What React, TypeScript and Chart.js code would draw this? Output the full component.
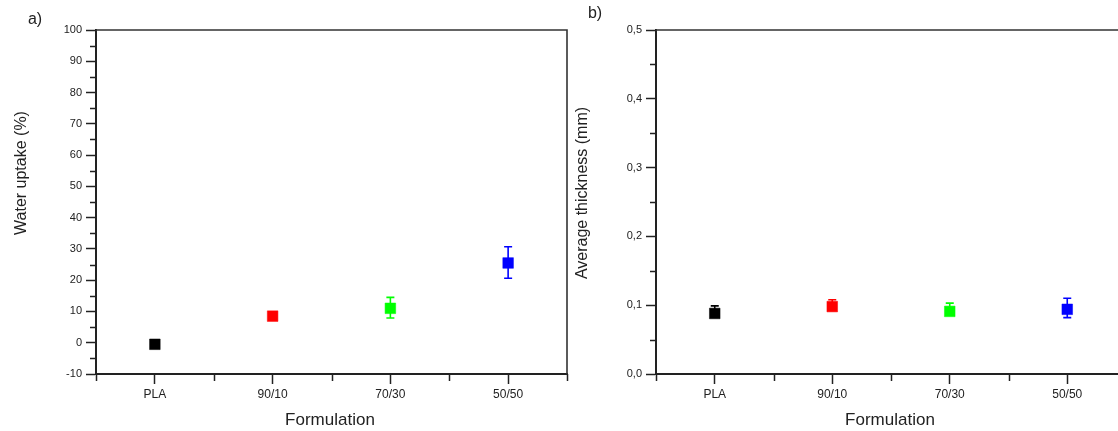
import React, { useEffect, useRef } from 'react';
import { Chart, registerables } from 'chart.js';

Chart.register(...registerables);

// ---------- data ----------
const categories = ['PLA', '90/10', '70/30', '50/50'];
const categoryPositions = [1, 2, 3, 4];
const minorXTicks = [0.5, 1.5, 2.5, 3.5, 4.5];
const pointColors = ['#000000', '#ff0000', '#00ff00', '#0000ff'];

const waterUptake = [-0.5, 8.5, 11.0, 25.5];
const waterUptakeErrPlus = [0.5, 0.5, 3.5, 5.2];
const waterUptakeErrMinus = [0.5, 0.5, 3.1, 4.9];
const waterTicks = [-10, 0, 10, 20, 30, 40, 50, 60, 70, 80, 90, 100];
const waterMinorTicks = [-5, 5, 15, 25, 35, 45, 55, 65, 75, 85, 95];

const thickness = [0.088, 0.098, 0.091, 0.094];
const thicknessErrPlus = [0.011, 0.010, 0.012, 0.016];
const thicknessErrMinus = [0.005, 0.004, 0.005, 0.012];
const thicknessTicks = [0, 0.1, 0.2, 0.3, 0.4, 0.5];
const thicknessMinorTicks = [0.05, 0.15, 0.25, 0.35, 0.45];

const FONT = "'Liberation Sans', Arial, sans-serif";
const INK = '#222222';

type PanelSpec = {
  width: number;
  height: number;
  padding: { top: number; left: number; right: number; bottom: number };
  yWidth: number;
  xHeight: number;
  values: number[];
  errPlus: number[];
  errMinus: number[];
  yMin: number;
  yMax: number;
  yTicks: number[];
  yMinor: number[];
  yFormat: (v: number) => string;
  yTitle: string;
  yTitlePos: [number, number];
  xTitle: string;
  xTitlePos: [number, number];
  panelLabel: string;
  panelLabelPos: [number, number];
};

function makeConfig(p: PanelSpec): any {
  const decorations = {
    id: 'decorations',
    beforeDatasetsDraw(chart: any) {
      const ctx = chart.ctx;
      const xs = chart.scales.x;
      const ys = chart.scales.y;
      ctx.save();
      ctx.lineWidth = 1.6;
      for (let i = 0; i < p.values.length; i++) {
        const x = xs.getPixelForValue(categoryPositions[i]);
        const yTop = ys.getPixelForValue(p.values[i] + p.errPlus[i]);
        const yBot = ys.getPixelForValue(p.values[i] - p.errMinus[i]);
        ctx.strokeStyle = pointColors[i];
        ctx.beginPath();
        ctx.moveTo(x, yTop);
        ctx.lineTo(x, yBot);
        ctx.moveTo(x - 4, yTop);
        ctx.lineTo(x + 4, yTop);
        ctx.moveTo(x - 4, yBot);
        ctx.lineTo(x + 4, yBot);
        ctx.stroke();
      }
      ctx.restore();
    },
    afterDraw(chart: any) {
      const ctx = chart.ctx;
      const a = chart.chartArea;
      const xs = chart.scales.x;
      const ys = chart.scales.y;
      ctx.save();
      // frame top + right
      ctx.strokeStyle = '#333333';
      ctx.lineWidth = 1.6;
      ctx.beginPath();
      ctx.moveTo(a.left, a.top);
      ctx.lineTo(a.right, a.top);
      ctx.lineTo(a.right, a.bottom);
      ctx.stroke();
      // minor ticks
      ctx.strokeStyle = INK;
      ctx.lineWidth = 1.5;
      ctx.beginPath();
      for (const v of p.yMinor) {
        const y = Math.round(ys.getPixelForValue(v)) + 0.5;
        ctx.moveTo(a.left, y);
        ctx.lineTo(a.left - 6, y);
      }
      for (const v of minorXTicks) {
        const x = Math.round(xs.getPixelForValue(v)) + 0.5;
        ctx.moveTo(x, a.bottom);
        ctx.lineTo(x, a.bottom + 7);
      }
      ctx.stroke();
      // texts
      ctx.fillStyle = INK;
      ctx.textAlign = 'center';
      ctx.textBaseline = 'middle';
      ctx.font = `17px ${FONT}`;
      ctx.fillText(p.xTitle, p.xTitlePos[0], p.xTitlePos[1]);
      ctx.font = `16px ${FONT}`;
      ctx.fillText(p.panelLabel, p.panelLabelPos[0], p.panelLabelPos[1]);
      ctx.save();
      ctx.translate(p.yTitlePos[0], p.yTitlePos[1]);
      ctx.rotate(-Math.PI / 2);
      ctx.font = `16px ${FONT}`;
      ctx.fillText(p.yTitle, 0, 0);
      ctx.restore();
      ctx.restore();
    },
  };

  return {
    type: 'scatter',
    data: {
      datasets: [
        {
          data: categoryPositions.map((x, i) => ({ x, y: p.values[i] })),
          pointStyle: 'rect',
          pointRadius: 7.5,
          pointHoverRadius: 7.5,
          pointBackgroundColor: pointColors,
          pointBorderColor: pointColors,
          pointBorderWidth: 0.5,
          showLine: false,
        },
      ],
    },
    options: {
      responsive: false,
      animation: false,
      events: [],
      layout: { padding: p.padding },
      plugins: { legend: { display: false }, tooltip: { enabled: false }, title: { display: false } },
      scales: {
        x: {
          type: 'linear',
          min: 0.5,
          max: 4.5,
          afterBuildTicks: (s: any) => {
            s.ticks = categoryPositions.map((v) => ({ value: v }));
          },
          afterFit: (s: any) => {
            s.height = p.xHeight;
          },
          ticks: {
            color: INK,
            font: { family: FONT, size: 12 },
            padding: 3,
            maxRotation: 0,
            autoSkip: false,
            callback: (v: number) => {
              const idx = categoryPositions.indexOf(v);
              return idx >= 0 ? categories[idx] : '';
            },
          },
          grid: {
            display: true,
            drawOnChartArea: false,
            drawTicks: true,
            tickLength: 10,
            tickColor: INK,
            tickWidth: 1.5,
          },
          border: { display: true, color: INK, width: 2 },
        },
        y: {
          type: 'linear',
          min: p.yMin,
          max: p.yMax,
          afterBuildTicks: (s: any) => {
            s.ticks = p.yTicks.map((v) => ({ value: v }));
          },
          afterFit: (s: any) => {
            s.width = p.yWidth;
          },
          ticks: {
            color: INK,
            font: { family: FONT, size: 11 },
            padding: 4,
            autoSkip: false,
            callback: (v: number) => p.yFormat(v),
          },
          grid: {
            display: true,
            drawOnChartArea: false,
            drawTicks: true,
            tickLength: 10,
            tickColor: INK,
            tickWidth: 1.5,
          },
          border: { display: true, color: INK, width: 2 },
        },
      },
    },
    plugins: [decorations],
  };
}

const leftSpec: PanelSpec = {
  width: 575,
  height: 431,
  padding: { top: 30, left: 0, right: 3, bottom: 0 },
  yWidth: 96,
  xHeight: 57,
  values: waterUptake,
  errPlus: waterUptakeErrPlus,
  errMinus: waterUptakeErrMinus,
  yMin: -10,
  yMax: 100,
  yTicks: waterTicks,
  yMinor: waterMinorTicks,
  yFormat: (v) => String(v),
  yTitle: 'Water uptake (%)',
  yTitlePos: [22, 173],
  xTitle: 'Formulation',
  xTitlePos: [330, 420],
  panelLabel: 'a)',
  panelLabelPos: [35, 20],
};

const rightSpec: PanelSpec = {
  width: 570,
  height: 431,
  padding: { top: 30, left: 0, right: 14, bottom: 0 },
  yWidth: 86,
  xHeight: 57,
  values: thickness,
  errPlus: thicknessErrPlus,
  errMinus: thicknessErrMinus,
  yMin: 0,
  yMax: 0.5,
  yTicks: thicknessTicks,
  yMinor: thicknessMinorTicks,
  yFormat: (v) => v.toFixed(1).replace('.', ','),
  yTitle: 'Average thickness (mm)',
  yTitlePos: [13, 193],
  xTitle: 'Formulation',
  xTitlePos: [320, 420],
  panelLabel: 'b)',
  panelLabelPos: [25, 14],
};

function Panel({ spec, left }: { spec: PanelSpec; left: number }) {
  const ref = useRef<HTMLCanvasElement | null>(null);
  useEffect(() => {
    if (!ref.current) return;
    const chart = new Chart(ref.current, makeConfig(spec));
    return () => chart.destroy();
  }, [spec]);
  return (
    <canvas
      ref={ref}
      width={spec.width}
      height={spec.height}
      style={{ position: 'absolute', left, top: 0, width: spec.width, height: spec.height, display: 'block' }}
    />
  );
}

export default function App() {
  return (
    <div
      style={{
        position: 'absolute',
        left: 0,
        top: 0,
        width: 1118,
        height: 431,
        overflow: 'hidden',
        background: '#ffffff',
      }}
    >
      <Panel spec={leftSpec} left={0} />
      <Panel spec={rightSpec} left={570} />
    </div>
  );
}
